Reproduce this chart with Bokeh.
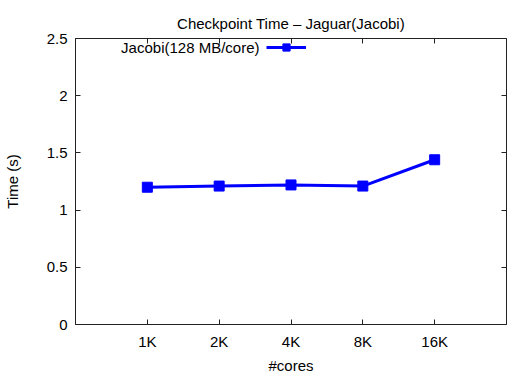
from bokeh.plotting import figure
from bokeh.models import Range1d, FixedTicker, LinearAxis, NumeralTickFormatter, Legend, LegendItem, Label, CustomJSTickFormatter
from bokeh.embed import file_html
from bokeh.resources import INLINE

cores = ["1K", "2K", "4K", "8K", "16K"]
times = [1.20, 1.21, 1.22, 1.21, 1.44]
series_label = "Jacobi(128 MB/core)"
title_text = "Checkpoint Time \u2013 Jaguar(Jacobi)"
y_ticks = [0, 0.5, 1, 1.5, 2, 2.5]

xpos = list(range(1, len(cores) + 1))
FONT = "Liberation Sans"
FS = "15px"
BLUE = "#0000ff"

p = figure(width=519, height=378, output_backend="svg", toolbar_location=None,
           x_range=Range1d(0, len(cores) + 1), y_range=Range1d(0, 2.5),
           title=title_text)
p.frame_width = 431
p.frame_height = 286
p.min_border_left = 74
p.min_border_right = 14
p.min_border_top = 38
p.min_border_bottom = 54
p.grid.visible = False
p.outline_line_color = "#222222"
p.background_fill_color = "white"
p.border_fill_color = "white"

p.title.align = "center"
p.title.text_font = FONT
p.title.text_font_size = FS
p.title.text_font_style = "normal"
p.title.text_color = "black"
p.title.standoff = 14

xt = FixedTicker(ticks=xpos)
yt = FixedTicker(ticks=y_ticks)
overrides = {i: c for i, c in zip(xpos, cores)}

for ax in p.axis:
    ax.major_tick_in = 5
    ax.major_tick_out = 0
    ax.minor_tick_line_color = None
    ax.axis_line_color = "#222222"
    ax.major_tick_line_color = "#222222"
    ax.major_label_text_font = FONT
    ax.major_label_text_font_size = FS
    ax.major_label_text_color = "black"
    ax.major_label_standoff = 8
    ax.axis_label_text_font = FONT
    ax.axis_label_text_font_size = FS
    ax.axis_label_text_font_style = "normal"
    ax.axis_label_text_color = "black"

for ax in p.xaxis:
    ax.ticker = xt
    ax.major_label_overrides = overrides
    ax.axis_label = "#cores"
    ax.axis_label_standoff = 4
for ax in p.yaxis:
    ax.ticker = yt
    ax.formatter = NumeralTickFormatter(format="0.[0]")
    ax.axis_label = "Time (s)"
    ax.axis_label_standoff = 23

blank = CustomJSTickFormatter(code="return ''")
top = LinearAxis(ticker=xt, formatter=blank, major_tick_in=5, major_tick_out=0, major_label_standoff=0,
                 minor_tick_line_color=None, axis_line_color=None, major_tick_line_color="#222222")
right = LinearAxis(ticker=yt, formatter=blank, major_tick_in=5, major_tick_out=0, major_label_standoff=0,
                   minor_tick_line_color=None, axis_line_color=None, major_tick_line_color="#222222")
p.add_layout(top, "above")
p.add_layout(right, "right")

ln = p.line(xpos, times, line_color=BLUE, line_width=3)
mk = p.scatter(xpos, times, marker="square", size=10, fill_color=BLUE, line_color=BLUE)

legend = Legend(items=[LegendItem(label="", renderers=[ln, mk])],
                location=(191, 268), glyph_width=40, glyph_height=18,
                label_width=0, label_standoff=0, label_height=18,
                label_text_font_size=FS, padding=0, margin=0, spacing=0,
                border_line_color=None, background_fill_alpha=0)
p.add_layout(legend, "center")

lab = Label(x=184, y=277, x_units="screen", y_units="screen", text=series_label,
            text_align="right", text_baseline="middle", text_font=FONT,
            text_font_size=FS, text_color="black")
p.add_layout(lab)

open("out.html", "w").write(file_html(p, INLINE))
